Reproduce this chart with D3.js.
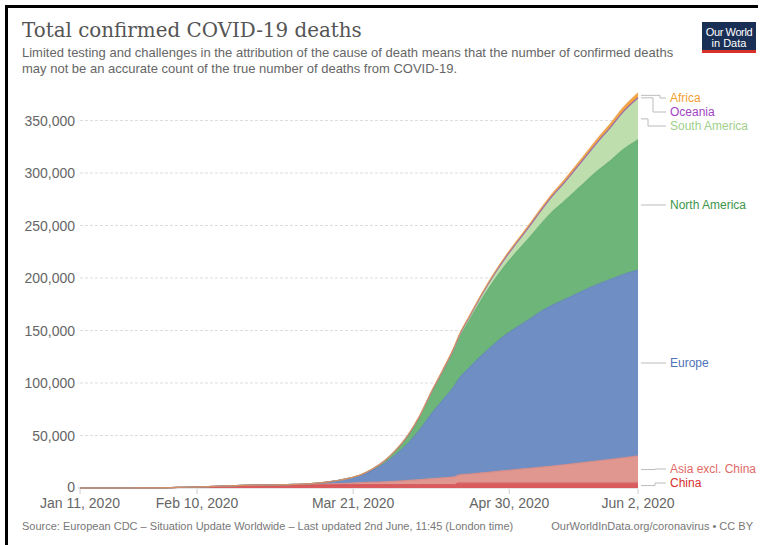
<!DOCTYPE html>
<html><head><meta charset="utf-8">
<script src="https://cdn.jsdelivr.net/npm/d3@7"></script>
<style>body{margin:0;background:#fff;} svg{display:block;font-family:"Liberation Sans",Arial,sans-serif;}</style>
</head><body><svg id="c" width="765" height="545"></svg>
<script>
// ---- data (cumulative confirmed deaths) ----
const dates = ["2020-01-11","2020-01-21","2020-01-26","2020-01-31","2020-02-05","2020-02-10","2020-02-15","2020-02-20","2020-02-25","2020-03-01",
"2020-03-06","2020-03-11","2020-03-14","2020-03-17","2020-03-20","2020-03-23","2020-03-26","2020-03-29","2020-04-01","2020-04-04",
"2020-04-07","2020-04-10","2020-04-13","2020-04-16","2020-04-17","2020-04-20","2020-04-23","2020-04-26","2020-04-29","2020-05-02",
"2020-05-05","2020-05-08","2020-05-11","2020-05-14","2020-05-17","2020-05-20","2020-05-23","2020-05-26","2020-05-29","2020-06-02"];
const china = [1,6,56,213,564,1016,1666,2236,2715,2872,3045,3162,3194,3231,3253,3274,3292,3304,3316,3330,3335,3339,3342,3342,4632,4632,4632,4633,4633,4633,4633,4633,4633,4634,4634,4634,4634,4634,4634,4638];
const asiaExclChina = [0,0,0,0,2,2,3,8,30,75,170,390,650,980,1380,1850,2250,2600,3200,3900,4700,5600,6450,7300,7800,8800,9800,10900,12000,13100,14100,15200,16300,17500,18800,20100,21400,22700,24000,25900];
const europe = [0,0,0,0,0,0,1,1,11,35,200,760,1600,2800,4500,7000,11500,17500,25500,35000,47000,61500,74000,87000,91000,102000,112000,121000,129000,135500,141500,148000,153000,157000,161000,165000,168500,171500,174500,177000];
const northAmerica = [0,0,0,0,0,0,0,0,0,1,14,33,60,110,220,480,1000,2000,3800,7000,12000,19000,26500,34500,37500,45500,53500,60500,66500,72000,77500,83000,89000,93500,98500,103500,108500,113000,118500,124000];
const southAmerica = [0,0,0,0,0,0,0,0,0,0,0,0,1,3,15,45,110,230,420,700,1000,1400,1850,2400,2600,3300,4300,5500,7000,8700,10600,12700,14900,17700,20800,24200,28000,31800,35800,40000];
const oceania = [0,0,0,0,0,0,0,0,0,1,2,3,3,5,7,8,13,16,23,37,48,62,68,75,78,84,90,96,104,114,117,119,120,121,122,123,124,124,125,126];
const africa = [0,0,0,0,0,0,0,0,0,0,1,3,5,12,25,45,75,130,200,290,420,560,720,870,910,1050,1200,1330,1500,1650,1830,2000,2200,2450,2700,2950,3250,3550,3950,4600];

const seriesNames = ["China","Asia excl. China","Europe","North America","South America","Oceania","Africa"];
const seriesValues = [china, asiaExclChina, europe, northAmerica, southAmerica, oceania, africa];
const yTicks = [0,50000,100000,150000,200000,250000,300000,350000];
const xTickDates = ["2020-01-11","2020-02-10","2020-03-21","2020-04-30","2020-06-02"];

const titleText = "Total confirmed COVID-19 deaths";
const subtitleLines = ["Limited testing and challenges in the attribution of the cause of death means that the number of confirmed deaths",
  "may not be an accurate count of the true number of deaths from COVID-19."];
const sourceText = "Source: European CDC – Situation Update Worldwide – Last updated 2nd June, 11:45 (London time)";
const creditText = "OurWorldInData.org/coronavirus • CC BY";

// ---- styles ----
const fills = {"China":"#da5b5e","Asia excl. China":"#df978f","Europe":"#6f8fc4","North America":"#6db579",
  "South America":"#bedead","Oceania":"#a455bb","Africa":"#f2a53f"};
const strokes = {"China":"#d24a4e","Asia excl. China":"#d9857d","Europe":"#5f80b8","North America":"#5ea96b",
  "South America":"#a9d493","Oceania":"#9a45b3","Africa":"#e9a050"};
const labelColors = {"China":"#d62f2f","Asia excl. China":"#df6a66","Europe":"#4f72b8","North America":"#3b964a",
  "South America":"#9fd08a","Oceania":"#a244c2","Africa":"#f0a030"};

const svg = d3.select("#c");
const parse = d3.timeParse("%Y-%m-%d");
const rows = dates.map((d,i)=>{const r={date:parse(d)}; seriesNames.forEach((n,j)=>r[n]=seriesValues[j][i]); return r;});

const x = d3.scaleTime().domain([parse("2020-01-11"), parse("2020-06-02")]).range([80, 638]);
const y = d3.scaleLinear().domain([0, 350000]).range([488, 120.5]);

// frame (black edges of the screenshot)
svg.append("rect").attr("x",5).attr("y",5).attr("width",3).attr("height",540).attr("fill","#000");
svg.append("rect").attr("x",5).attr("y",5).attr("width",753).attr("height",3).attr("fill","#000");

// title
const title = svg.append("text").attr("x",22).attr("y",37).attr("fill","#555")
  .style("font-family","'DejaVu Serif',Georgia,serif").style("font-size","19px").text(titleText);
const tl = title.node().getComputedTextLength();
title.style("font-size", (19*340/tl).toFixed(2)+"px");
svg.selectAll(".sub").data(subtitleLines).join("text").attr("class","sub")
  .attr("x",22).attr("y",(d,i)=>57+i*15.5).attr("fill","#666").style("font-size","13px").text(d=>d);

// logo
const logo = svg.append("g");
logo.append("rect").attr("x",702).attr("y",22).attr("width",54).attr("height",28).attr("fill","#1a2f55");
logo.append("rect").attr("x",702).attr("y",50).attr("width",54).attr("height",3).attr("fill","#d8312a");
logo.append("text").attr("x",729).attr("y",35.5).attr("text-anchor","middle").attr("fill","#fff")
  .style("font-size","11px").style("letter-spacing","-0.4px").text("Our World");
logo.append("text").attr("x",729).attr("y",46.5).attr("text-anchor","middle").attr("fill","#fff")
  .style("font-size","11px").text("in Data");

// gridlines + y labels
svg.append("g").selectAll("line").data(yTicks.filter(t=>t>0)).join("line")
  .attr("x1",80).attr("x2",638).attr("y1",d=>y(d)).attr("y2",d=>y(d))
  .attr("stroke","#ddd").attr("stroke-dasharray","3,2");
svg.append("line").attr("x1",78).attr("x2",638).attr("y1",y(0)).attr("y2",y(0)).attr("stroke","#ccc");
svg.append("g").selectAll("text").data(yTicks).join("text")
  .attr("x",75).attr("y",d=>y(d)+(d===0?4:5)).attr("text-anchor","end").attr("fill","#666")
  .style("font-size","14px").text(d=>d3.format(",")(d));

// stacked areas
const stack = d3.stack().keys(seriesNames);
const layers = stack(rows);
const area = d3.area().x(d=>x(d.data.date)).y0(d=>y(d[0])).y1(d=>y(d[1])).curve(d3.curveMonotoneX);
const topLine = d3.line().x(d=>x(d.data.date)).y(d=>y(d[1])).curve(d3.curveMonotoneX);
svg.append("g").selectAll("path").data(layers).join("path")
  .attr("d",area).attr("fill",d=>fills[d.key]);
svg.append("g").selectAll("path").data(layers).join("path")
  .attr("d",topLine).attr("fill","none").attr("stroke",d=>strokes[d.key]).attr("stroke-width",1.2).attr("stroke-opacity",0.75);

// x axis ticks + labels
const xt = xTickDates.map(parse);
svg.append("g").selectAll("line").data(xt).join("line")
  .attr("x1",d=>x(d)).attr("x2",d=>x(d)).attr("y1",489).attr("y2",494).attr("stroke","#ccc");
svg.append("g").selectAll("text").data(xt).join("text")
  .attr("x",d=>x(d)).attr("y",508).attr("text-anchor","middle").attr("fill","#666")
  .style("font-size","14px").text(d=>d3.timeFormat("%b %-d, %Y")(d));

// legend labels on the right
const last = layers.map(l=>{const p=l[l.length-1]; return {key:l.key, yData:y((p[0]+p[1])/2)};});
const ordered = last.slice().reverse(); // top to bottom
let prev = 98 - 14;
ordered.forEach(o=>{o.yLab = Math.max(o.yData, prev+14); prev=o.yLab;});
let next = 483 + 14;
ordered.slice().reverse().forEach(o=>{o.yLab = Math.min(o.yLab, next-14); next=o.yLab;});
const elbow = {"Africa":660,"Oceania":653,"South America":648,"North America":655,"Europe":655,"Asia excl. China":655,"China":655};
svg.append("g").selectAll("path").data(ordered).join("path")
  .attr("d",o=>`M641,${o.yData}H${elbow[o.key]}V${o.yLab}H666`)
  .attr("fill","none").attr("stroke","#bbb").attr("stroke-width",1);
svg.append("g").selectAll("text").data(ordered).join("text")
  .attr("x",670).attr("y",o=>o.yLab+4.3).attr("fill",o=>labelColors[o.key])
  .style("font-size","12px").text(o=>o.key);

// footer
svg.append("text").attr("x",22).attr("y",530).attr("fill","#777").style("font-size","11px").text(sourceText);
svg.append("text").attr("x",753).attr("y",530).attr("text-anchor","end").attr("fill","#777").style("font-size","11px").text(creditText);
</script></body></html>
